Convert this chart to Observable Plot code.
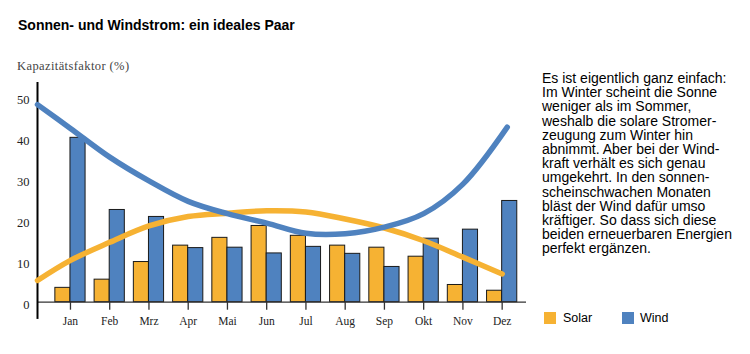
<!DOCTYPE html>
<html><head><meta charset="utf-8">
<script src="https://cdn.jsdelivr.net/npm/d3@7"></script>
<script src="https://cdn.jsdelivr.net/npm/@observablehq/plot@0.6"></script>
<style>
body{margin:0;background:#fff;}
#wrap{position:relative;width:750px;height:354px;overflow:hidden;font-family:"Liberation Sans",Arial,sans-serif;background:#fff;}
#title{position:absolute;left:18px;top:16px;font-weight:bold;font-size:14px;line-height:18px;color:#000;white-space:nowrap;}
#ylabel{position:absolute;left:17px;top:59px;font-family:"Liberation Serif",serif;font-size:12.5px;line-height:15px;color:#444;letter-spacing:0.4px;white-space:nowrap;}
#chart{position:absolute;left:0;top:0;}
#note{position:absolute;left:542px;top:71px;font-size:14px;line-height:14.2px;color:#000;white-space:pre;}
.lg{position:absolute;top:312px;width:12px;height:12px;}
.lt{position:absolute;top:311px;font-size:12.5px;line-height:15px;color:#000;}
</style>
</head><body>
<div id="wrap">
  <div id="title">Sonnen- und Windstrom: ein ideales Paar</div>
  <div id="ylabel">Kapazitätsfaktor (%)</div>
  <div id="chart"></div>
  <div id="note"></div>
  <div class="lg" id="sw1"></div><div class="lt" id="lt1" style="left:563px"></div>
  <div class="lg" id="sw2"></div><div class="lt" id="lt2" style="left:640px"></div>
</div>
<script>
// ---- data ----
const months = ["Jan","Feb","Mrz","Apr","Mai","Jun","Jul","Aug","Sep","Okt","Nov","Dez"];
const solar = [3.5, 5.5, 9.8, 13.8, 15.7, 18.6, 16.2, 13.8, 13.3, 11.1, 4.2, 2.8];
const wind  = [40.1, 22.5, 20.8, 13.2, 13.3, 11.9, 13.5, 11.8, 8.6, 15.5, 17.7, 24.7];
// smooth trend curves (x in month units, 1 = Jan)
const solarTrendX = [0.16, 1, 2, 3, 4, 5, 6, 7, 8, 9, 10, 11, 12];
const solarTrend  = [5.3, 10.2, 14.6, 18.6, 20.9, 21.7, 22.3, 22.0, 20.3, 18.1, 15.0, 11.0, 6.9];
const windTrendX  = [0.16, 1, 2, 3, 4, 5, 6, 7, 8, 9, 10, 11, 12.13];
const windTrend   = [48.2, 42.4, 35.4, 29.6, 24.6, 21.6, 19.3, 16.8, 16.7, 18.3, 21.6, 28.8, 42.7];
const yTicks = [0, 10, 20, 30, 40, 50];
const seriesNames = ["Solar", "Wind"];
const noteLines = [
  "Es ist eigentlich ganz einfach:",
  "Im Winter scheint die Sonne",
  "weniger als im Sommer,",
  "weshalb die solare Stromer-",
  "zeugung zum Winter hin",
  "abnimmt. Aber bei der Wind-",
  "kraft verhält es sich genau",
  "umgekehrt. In den sonnen-",
  "scheinschwachen Monaten",
  "bläst der Wind dafür umso",
  "kräftiger. So dass sich diese",
  "beiden erneuerbaren Energien",
  "perfekt ergänzen."
];

// ---- styles ----
const ORANGE = "#F6B233";
const BLUE = "#4F82BF";
const xDomain = [0.16, 12.62];
const yDomain = [0, 53.6];
const yAxisExtent = [-4.2, 53.6];
const half = 0.385;

const solarData = solar.map((v, i) => ({m: i + 1, v}));
const windData = wind.map((v, i) => ({m: i + 1, v}));
const solarCurve = solarTrendX.map((x, i) => ({x, v: solarTrend[i]}));
const windCurve = windTrendX.map((x, i) => ({x, v: windTrend[i]}));

const chart = Plot.plot({
  width: 540,
  height: 354,
  marginLeft: 37,
  marginRight: 14,
  marginTop: 82,
  marginBottom: 52.3,
  style: {fontFamily: "'Liberation Serif', serif", background: "transparent", color: "#222", overflow: "visible"},
  x: {type: "linear", domain: xDomain},
  y: {domain: yDomain},
  marks: [
    Plot.rectY(solarData, {x1: d => d.m - half, x2: d => d.m, y: "v", fill: ORANGE, stroke: "#1a1a1a", strokeWidth: 1}),
    Plot.rectY(windData, {x1: d => d.m, x2: d => d.m + half, y: "v", fill: BLUE, stroke: "#1a1a1a", strokeWidth: 1}),
    Plot.ruleY([0], {stroke: "#333", strokeWidth: 1.3}),
    Plot.axisX({ticks: months.map((_, i) => i + 1), tickFormat: m => months[m - 1], tickSize: 8, tickPadding: 7, fontSize: 11.5, label: null, stroke: "#333", strokeWidth: 1.3}),
    Plot.axisY({ticks: yTicks, tickSize: 0, tickPadding: 8, dy: 3, fontSize: 12.5, label: null}),
    Plot.ruleX([xDomain[0]], {y1: yAxisExtent[0], y2: yAxisExtent[1], stroke: "#000", strokeWidth: 2}),
    Plot.line(solarCurve, {x: "x", y: "v", stroke: ORANGE, strokeWidth: 5.5, curve: "catmull-rom"}),
    Plot.line(windCurve, {x: "x", y: "v", stroke: BLUE, strokeWidth: 5.5, curve: "catmull-rom"})
  ]
});
document.getElementById("chart").appendChild(chart);
document.getElementById("note").textContent = noteLines.join("\n");
document.getElementById("sw1").style.cssText = `left:544px;background:${ORANGE}`;
document.getElementById("sw2").style.cssText = `left:622px;background:${BLUE}`;
document.getElementById("lt1").textContent = seriesNames[0];
document.getElementById("lt2").textContent = seriesNames[1];
</script>
</body></html>
